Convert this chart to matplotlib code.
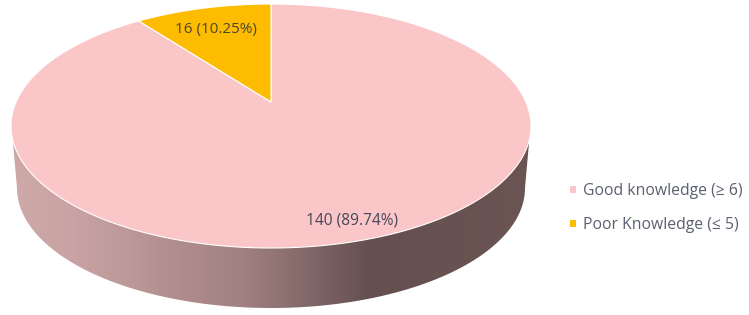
import numpy as np
import matplotlib
matplotlib.use('Agg')
import matplotlib.pyplot as plt
from matplotlib.colors import LinearSegmentedColormap
from matplotlib.patches import Polygon

categories = ['Good knowledge (≥ 6)', 'Poor Knowledge (≤ 5)']
counts = [140, 16]
percent_labels = ['89.74%', '10.25%']
colors = ['#fbc6c8', '#fdbc00']

plt.rcParams['font.family'] = ['Open Sans', 'DejaVu Sans']

fig = plt.figure(figsize=(7.49, 3.15), dpi=100)
ax = fig.add_axes([0, 0, 1, 1])

k = 0.197


# tilted pie: unit circle -> picture pixels, centre sits above the middle of the ellipse
def project(u, v):
    d = 1 + k * v
    x = 271 + 260 * u * np.sqrt(1 - k * k) / d
    y = 126 - 122 * (v + k) / d
    return x, y


# side wall with the shading running left to right
t = np.linspace(np.pi, 0, 200)
wall_x = np.r_[11.5, 271 + 254 * np.cos(t), 530.5]
wall_y = np.r_[126, 188 + 120 * np.sin(t), 126]
wall = Polygon(np.c_[wall_x, wall_y], closed=True, fc='none', ec='none')
ax.add_patch(wall)
cmap = LinearSegmentedColormap.from_list('wall', [
    (0.0, '#cfa8a8'), (0.12, '#c9a3a3'), (0.45, '#a08080'),
    (0.69, '#655050'), (1.0, '#6a5553')])
img = ax.imshow(np.linspace(0, 1, 400)[None, :], cmap=cmap, aspect='auto',
                extent=(11, 531, 315, 100), zorder=1)
img.set_clip_path(wall)

# slices, clockwise from the top
fractions = np.array(counts) / sum(counts)
start = np.pi / 2
cx, cy = project(0.0, 0.0)
for value, color in zip(fractions, colors):
    end = start - 2 * np.pi * value
    a = np.linspace(start, end, 300)
    x, y = project(np.cos(a), np.sin(a))
    ax.fill(np.r_[cx, x], np.r_[cy, y], fc=color, ec='white', lw=0.8, zorder=2)
    start = end

ax.text(352.5, 220.5, f'{counts[0]} ({percent_labels[0]})', ha='center', va='center',
        fontsize=11.2, color='#44475a', zorder=3)
ax.text(216, 29.5, f'{counts[1]} ({percent_labels[1]})', ha='center', va='center',
        fontsize=11, color='#4a4a30', zorder=3)

# legend
handles = [plt.Rectangle((0, 0), 1, 1, fc=c, ec='none') for c in colors]
ax.legend(handles, categories, loc='center left', bbox_to_anchor=(564, 208),
          bbox_transform=ax.transData, frameon=False, fontsize=11.3, labelcolor='#5b6070',
          handlelength=0.36, handleheight=0.36, handletextpad=0.45, labelspacing=1.15,
          borderpad=0.4, borderaxespad=0)

ax.set_xlim(0, 749)
ax.set_ylim(315, 0)
ax.axis('off')

fig.savefig('out.png', dpi=100)
